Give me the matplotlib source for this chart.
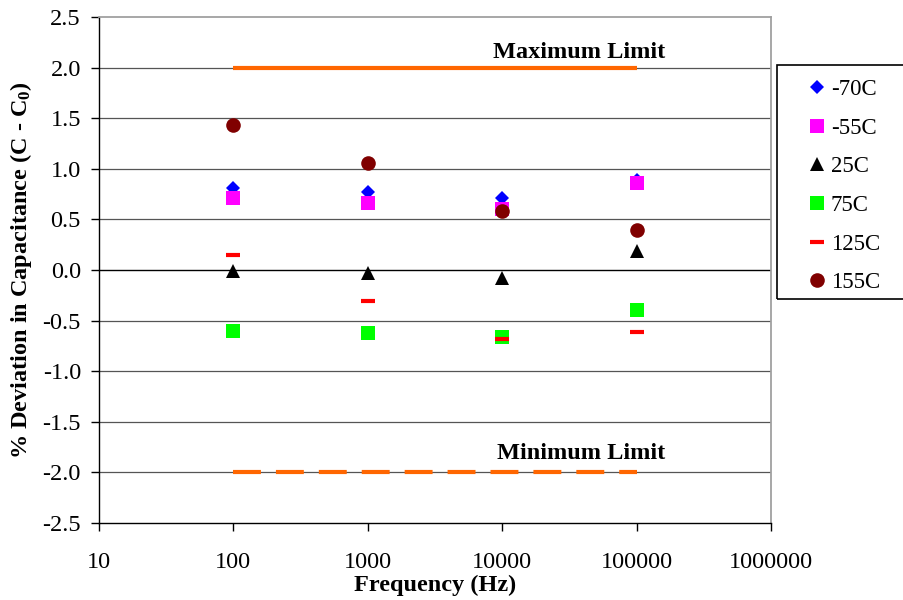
import matplotlib
matplotlib.use("Agg")
import matplotlib.pyplot as plt
from matplotlib.patches import Rectangle
from matplotlib.ticker import FixedLocator, FixedFormatter, NullLocator
import numpy as np

plt.rcParams['font.family'] = ['Liberation Serif', 'DejaVu Serif']
plt.rcParams['mathtext.fontset'] = 'custom'
plt.rcParams['mathtext.rm'] = 'Liberation Serif'
plt.rcParams['mathtext.bf'] = 'Liberation Serif:bold'
plt.rcParams['mathtext.default'] = 'bf'
plt.rcParams['axes.unicode_minus'] = False

# measured % deviation at each test frequency, one list per temperature
freq = [100, 1000, 10000, 100000]
dev_m70 = [0.81, 0.77, 0.71, 0.89]
dev_m55 = [0.71, 0.66, 0.60, 0.86]
dev_25 = [-0.01, -0.03, -0.08, 0.19]
dev_75 = [-0.60, -0.62, -0.66, -0.40]
dev_125 = [0.15, -0.31, -0.68, -0.61]
dev_155 = [1.43, 1.06, 0.58, 0.40]

limit_freq = [100, 100000]
max_limit = [2.0, 2.0]
min_limit = [-2.0, -2.0]

xticks = [10, 100, 1000, 10000, 100000, 1000000]
xtick_labels = ['10', '100', '1000', '10000', '100000', '1000000']
yticks = np.arange(-2.5, 2.51, 0.5)

fs = 17.5

fig = plt.figure(figsize=(9.04, 6.0), dpi=100)
ax = fig.add_axes([99 / 904, 1 - 523 / 600, (771 - 99) / 904, (523 - 17) / 600])

orange = '#FF6600'
ax.plot(limit_freq, max_limit, color=orange, lw=3, solid_capstyle='butt', zorder=3)
ax.plot(limit_freq, min_limit, color=orange, lw=3, linestyle=(0, (6.7, 3.6)),
        dash_capstyle='butt', zorder=3)

series = [
    (dev_m70, '-70C', 'D', '#0000FF', 7.6),
    (dev_m55, '-55C', 's', '#FF00FF', 10),
    (dev_25, '25C', '^', '#000000', 10.5),
    (dev_75, '75C', 's', '#00FF00', 10),
    (dev_125, '125C', '_', '#FF0000', 10.5),
    (dev_155, '155C', 'o', '#800000', 10.5),
]
handles = []
for vals, name, mk, col, ms in series:
    if mk == '_':
        h, = ax.plot(freq, vals, linestyle='none', marker=mk, color=col,
                     markersize=ms, markeredgewidth=3, label=name, zorder=4)
    else:
        h, = ax.plot(freq, vals, linestyle='none', marker=mk, color=col,
                     markersize=ms, markeredgewidth=0, label=name, zorder=4)
    handles.append(h)

ax.set_xscale('log')
ax.set_xlim(10, 1000000)
ax.set_ylim(-2.5, 2.5)
ax.xaxis.set_major_locator(FixedLocator(xticks))
ax.xaxis.set_major_formatter(FixedFormatter(xtick_labels))
ax.xaxis.set_minor_locator(NullLocator())
ax.set_yticks(yticks)
ax.set_yticklabels(['%.1f' % v for v in yticks])

# horizontal gridlines, the zero line is black
for v in yticks[1:-1]:
    ax.axhline(v, color='#000000' if abs(v) < 1e-9 else '#555555',
               lw=1.0 if abs(v) < 1e-9 else 0.9, zorder=1)

ax.spines['top'].set_color('#a0a0a0')
ax.spines['right'].set_color('#a0a0a0')
ax.spines['top'].set_linewidth(1.3)
ax.spines['right'].set_linewidth(1.3)
ax.spines['left'].set_linewidth(1.0)
ax.spines['bottom'].set_linewidth(1.0)
ax.tick_params(axis='both', direction='out', length=6, width=1.0,
               labelsize=fs, colors='black')
ax.tick_params(axis='y', pad=7)
ax.tick_params(axis='x', pad=15)

ax.text(0.715, 2.15, 'Maximum Limit', transform=ax.get_yaxis_transform(),
        ha='center', va='center', fontsize=fs, fontweight='bold')
ax.text(0.717, -1.81, 'Minimum Limit', transform=ax.get_yaxis_transform(),
        ha='center', va='center', fontsize=fs, fontweight='bold')

ax.set_xlabel('Frequency (Hz)', fontsize=fs, fontweight='bold', labelpad=1)
ax.set_ylabel('% Deviation in Capacitance (C - C$_0$)', fontsize=fs,
              fontweight='bold', labelpad=6)

# legend box on the right
fig.patches.append(Rectangle((777 / 904, 1 - 299 / 600), 0.2, (299 - 65) / 600,
                             transform=fig.transFigure, fill=False,
                             edgecolor='black', lw=1.2))
fig.legend(handles=handles, loc='upper left',
           bbox_to_anchor=(808 / 904, 1 - 79 / 600), frameon=False,
           borderpad=0, borderaxespad=0, handlelength=0.8, handletextpad=0.2,
           labelspacing=0.77, fontsize=16.5, numpoints=1)

fig.savefig('out.png', dpi=100)
